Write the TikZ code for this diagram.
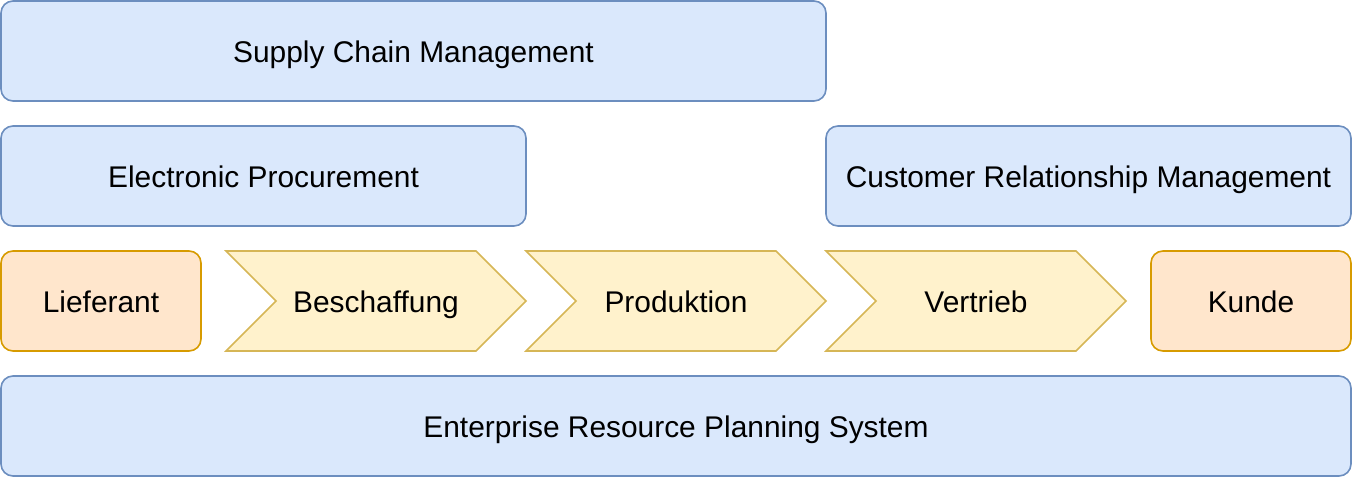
\documentclass[tikz,border=0pt]{standalone}
\usepackage{fontspec}
\setmainfont{Liberation Sans}
\definecolor{bluefill}{HTML}{DAE8FC}
\definecolor{bluedraw}{HTML}{6C8EBF}
\definecolor{orfill}{HTML}{FFE6CC}
\definecolor{ordraw}{HTML}{D79B00}
\definecolor{yefill}{HTML}{FFF2CC}
\definecolor{yedraw}{HTML}{D6B656}
\tikzset{
  bluebox/.style={draw=bluedraw, fill=bluefill, line width=1.6pt, rounded corners=12pt},
  orbox/.style={draw=ordraw, fill=orfill, line width=1.6pt, rounded corners=12pt},
  chev/.style={draw=yedraw, fill=yefill, line width=1.6pt, line join=miter},
  lbl/.style={font=\fontsize{29.9pt}{34pt}\selectfont, text=black, inner sep=0pt, anchor=base}
}
\begin{document}
\begin{tikzpicture}[x=1pt,y=-1pt]
\useasboundingbox (0,0) rectangle (1353,478);
% blue boxes
\draw[bluebox] (1,1) rectangle (826,101);
\node[lbl] (scm) at (413.5,62.5) {Supply Chain Management};
\draw[bluebox] (1,126) rectangle (526,226);
\node[lbl] (ep) at (263.5,187.5) {Electronic Procurement};
\draw[bluebox] (826,126) rectangle (1351,226);
\node[lbl] (crm) at (1088.5,187.5) {Customer Relationship Management};
\draw[bluebox] (1,376) rectangle (1351,476);
\node[lbl] (erp) at (676,437.5) {Enterprise Resource Planning System};
% orange boxes
\draw[orbox] (1,251) rectangle (201,351);
\node[lbl] (lief) at (101,312.5) {Lieferant};
\draw[orbox] (1151,251) rectangle (1351,351);
\node[lbl] (kunde) at (1251,312.5) {Kunde};
% chevrons
\foreach \x/\t/\n in {226/Beschaffung/besch, 526/Produktion/prod, 826/Vertrieb/vert}{
  \draw[chev] (\x,251) -- ({\x+250},251) -- ({\x+300},301) -- ({\x+250},351) -- (\x,351) -- ({\x+50},301) -- cycle;
  \node[lbl] (\n) at ({\x+150},312.5) {\t};
}
\end{tikzpicture}
\end{document}
